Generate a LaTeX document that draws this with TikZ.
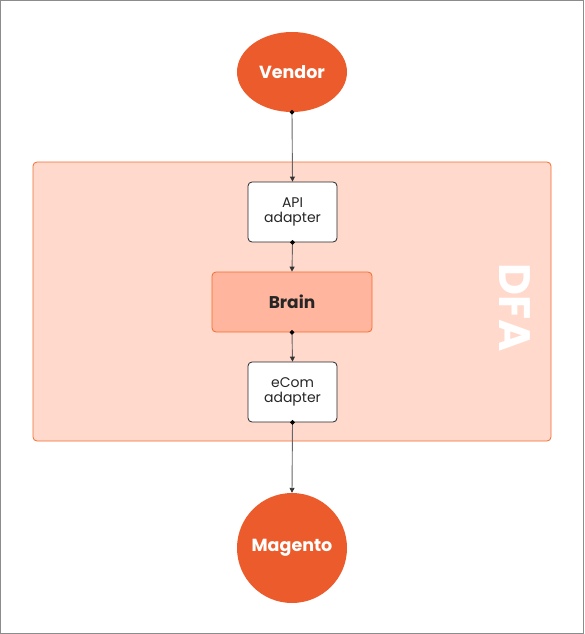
\documentclass[tikz,border=0pt]{standalone}
\usepackage{fontspec}
\setmainfont{Poppins}
\usetikzlibrary{arrows.meta,shapes.geometric}
\definecolor{dfaorange}{HTML}{EC5B2B}
\definecolor{dfaline}{HTML}{F26D2F}
\definecolor{dfafill}{HTML}{FFD9CC}
\definecolor{brainfill}{HTML}{FFB59E}
\definecolor{wire}{HTML}{666666}
\tikzset{
    endpoint/.style={fill=dfaorange, text=white, font=\bfseries\fontsize{17.5}{20}\selectfont, inner sep=0pt},
    adapter/.style={draw=black!85, line width=0.8pt, fill=white, rounded corners=4pt, minimum width=89pt, minimum height=60pt, align=center, font=\fontsize{14}{15.5}\selectfont, text=black!85, inner sep=0pt},
    link/.style={wire, line width=0.9pt, {Circle[black,length=4.5pt]}-{Triangle[black!80,length=5pt,width=5pt]}, shorten <=-2.25pt}
}
\begin{document}
\begin{tikzpicture}[x=1pt,y=-1pt]
    \useasboundingbox (0,0) rectangle (584,634);
    \draw[black!45, line width=1.2pt] (0.6,0.6) rectangle (583.4,633.4);

    % container
    \draw[dfaline, fill=dfafill, line width=0.8pt, rounded corners=4pt] (33,162) rectangle (551,441);
    \node[rotate=-90, text=white, font=\bfseries\fontsize{44}{46}\selectfont] (dfa) at (515,308) {DFA};

    \node[endpoint, ellipse, minimum width=110pt, minimum height=80pt] (vendor) at (292,72) {Vendor};
    \node[adapter] (api) at (292.5,212) {API\\adapter};
    \node[adapter, draw=dfaline, fill=brainfill, minimum width=160pt, font=\bfseries\fontsize{17}{19}\selectfont] (brain) at (292,302) {Brain};
    \node[adapter] (ecom) at (292.5,392) {eCom\\adapter};
    \node[endpoint, circle, minimum size=110pt] (magento) at (292,548) {Magento};

    \draw[link] (vendor.south) -- (api.north);
    \draw[link] (api.south) -- (brain.north);
    \draw[link] (brain.south) -- (ecom.north);
    \draw[link] (ecom.south) -- (magento.north);
\end{tikzpicture}
\end{document}
